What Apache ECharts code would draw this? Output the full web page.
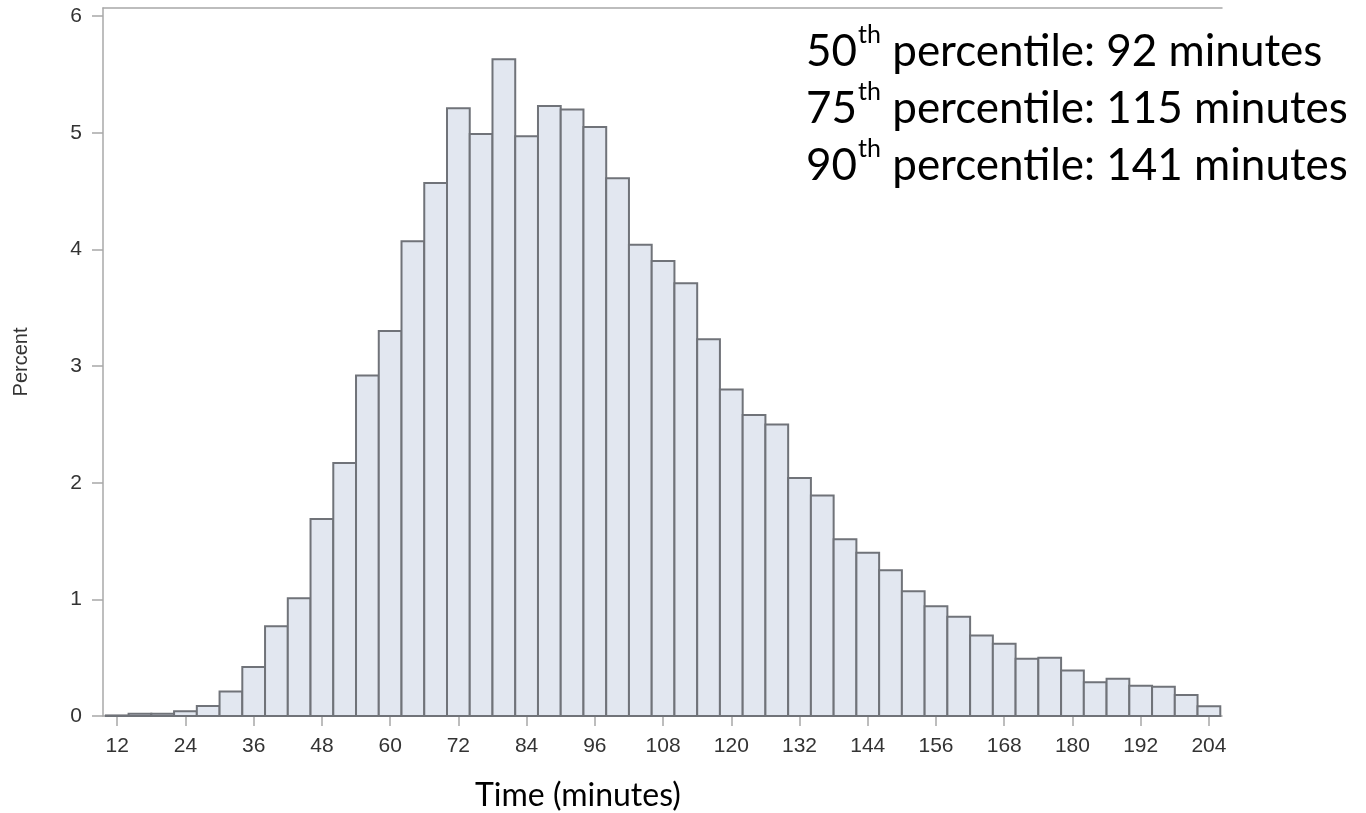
<!DOCTYPE html>
<html>
<head>
<meta charset="utf-8">
<title>Time histogram</title>
<script src="https://cdn.jsdelivr.net/npm/echarts@6/dist/echarts.min.js"></script>
<style>
  html, body { margin: 0; padding: 0; background: #fff; }
  #echarts1 { width: 1366px; height: 813px; }
</style>
</head>
<body>
<div id="echarts1"></div>
<script>
// bin midpoints (minutes), each bin is 4 minutes wide
var binMid = [12, 16, 20, 24, 28, 32, 36, 40, 44, 48, 52, 56, 60, 64, 68, 72, 76, 80, 84, 88,
              92, 96, 100, 104, 108, 112, 116, 120, 124, 128, 132, 136, 140, 144, 148, 152, 156, 160, 164, 168,
              172, 176, 180, 184, 188, 192, 196, 200, 204];
var binWidth = 4;
// percent of trips in each bin
var percent = [0.005, 0.02, 0.02, 0.04, 0.086, 0.21, 0.42, 0.77, 1.01, 1.69, 2.17, 2.92, 3.30, 4.07, 4.57, 5.21, 4.99, 5.63, 4.97, 5.23,
               5.20, 5.05, 4.61, 4.04, 3.90, 3.71, 3.23, 2.80, 2.58, 2.50, 2.04, 1.89, 1.515, 1.40, 1.25, 1.07, 0.94, 0.85, 0.69, 0.62,
               0.49, 0.50, 0.39, 0.29, 0.32, 0.26, 0.25, 0.18, 0.083];
var xTicks = [12, 24, 36, 48, 60, 72, 84, 96, 108, 120, 132, 144, 156, 168, 180, 192, 204];
var yTicks = [0, 1, 2, 3, 4, 5, 6];
var percentiles = [['50', '92'], ['75', '115'], ['90', '141']];

if(document.getElementById("echarts1")) {
    var myChart1 = echarts.init(document.getElementById("echarts1"));
    window.addEventListener('resize',function(){myChart1.resize();},false);

    var histData = binMid.map(function (m, i) { return [m, percent[i]]; });
    var pctText = percentiles.map(function (p) {
        return '{n|' + p[0] + '}{s|th}{n| percentile: ' + p[1] + ' minutes}';
    }).join('\n');

    var axisGray = '#a8a8a8';
    var option1 = {
        animation: false,
        grid: { left: 103, right: 144, top: 8, bottom: 97 },
        title: {
            left: 806, top: 17, padding: 0,
            text: pctText,
            textStyle: {
                fontWeight: 'normal',
                rich: {
                    n: { fontFamily: 'Lato', fontWeight: 'normal', fontSize: 44, color: '#000', lineHeight: 57, verticalAlign: 'bottom' },
                    s: { fontFamily: 'Lato', fontWeight: 'normal', fontSize: 25, color: '#000', lineHeight: 57, verticalAlign: 'top', padding: [5, 0, 0, 1] }
                }
            }
        },
        graphic: [{
            type: 'text', left: 475, top: 780,
            style: { text: 'Time (minutes)', font: '32px Lato', fill: '#000' }
        }],
        xAxis: [{
            type: 'value', min: 9.5, max: 206.3,
            splitLine: { show: false },
            axisLine: { show: true, lineStyle: { color: axisGray, width: 1.5 } },
            axisTick: { show: true, length: 10, customValues: xTicks, lineStyle: { color: axisGray, width: 1.5 } },
            axisLabel: { customValues: xTicks, margin: 20, fontFamily: 'Liberation Sans', fontSize: 21, color: '#333' }
        }, {
            type: 'value', position: 'top', min: 9.5, max: 206.3,
            splitLine: { show: false },
            axisLine: { show: true, lineStyle: { color: axisGray, width: 1.5 } },
            axisTick: { show: false }, axisLabel: { show: false }
        }],
        yAxis: {
            type: 'value', min: 0, max: 6.07,
            name: 'Percent', nameLocation: 'middle', nameGap: 72, nameRotate: 90,
            nameTextStyle: { fontFamily: 'Liberation Sans', fontSize: 20, color: '#333' },
            splitLine: { show: false },
            axisLine: { show: true, lineStyle: { color: axisGray, width: 1.5 } },
            axisTick: { show: true, length: 11, customValues: yTicks, lineStyle: { color: axisGray, width: 1.5 } },
            axisLabel: { customValues: yTicks, margin: 21, fontFamily: 'Liberation Sans', fontSize: 21, color: '#333' }
        },
        series: [{
            type: 'custom',
            data: histData,
            encode: { x: 0, y: 1 },
            renderItem: function (params, api) {
                var p0 = api.coord([api.value(0) - binWidth / 2, api.value(1)]);
                var p1 = api.coord([api.value(0) + binWidth / 2, 0]);
                return {
                    type: 'rect',
                    shape: { x: p0[0], y: p0[1], width: p1[0] - p0[0], height: p1[1] - p0[1] },
                    style: { fill: '#e2e7f0', stroke: '#707379', lineWidth: 2 }
                };
            }
        }]
    };
    myChart1.setOption(option1);
}
</script>
</body>
</html>
